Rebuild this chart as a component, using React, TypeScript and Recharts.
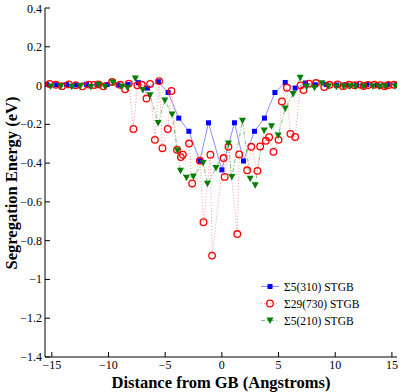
import { LineChart, Line, XAxis, YAxis } from 'recharts';

// Σ5(310) STGB
const s310X = [-15.44, -14.57, -13.69, -12.82, -11.95, -11.0, -10.12, -9.15, -8.27, -7.36, -6.57, -5.6, -4.74, -3.8, -2.91, -1.94, -1.18, 0, 1.11, 1.91, 2.88, 3.76, 4.68, 5.59, 6.47, 7.38, 8.25, 9.2, 10.1, 10.95, 11.9, 12.8, 13.7, 14.6, 15.4];
const s310Y = [0.006, 0.004, 0.005, 0.003, 0.006, 0.004, 0.005, 0.003, 0.006, 0.015, -0.013, 0.02, -0.036, -0.168, -0.236, -0.389, -0.192, -0.435, -0.192, -0.389, -0.236, -0.168, -0.036, 0.016, -0.013, 0.013, 0.004, 0.006, 0.003, 0.005, 0.004, 0.006, 0.003, 0.005, 0.004];

// Σ29(730) STGB
const s730X = [-15.2, -14.65, -14.1, -13.5, -12.9, -12.3, -11.75, -11.27, -10.89, -10.45, -9.68, -8.98, -8.53, -8.21, -7.8, -7.45, -7.06, -6.65, -6.33, -5.91, -5.53, -5.24, -4.77, -4.45, -3.95, -3.62, -3.44, -2.89, -2.62, -1.94, -1.62, -1.01, -0.86, 0.15, 0.25, 0.58, 1.36, 1.53, 2.23, 2.59, 3.14, 3.38, 3.88, 4.17, 4.55, 5.0, 5.3, 5.74, 6.05, 6.47, 6.94, 7.2, 7.68, 8.3, 9.03, 9.5, 10.2, 10.7, 11.22, 11.7, 12.14, 12.5, 12.91, 13.45, 13.97, 14.35, 14.7, 15.2];
const s730Y = [0.008, 0.004, -0.003, 0.006, 0.002, -0.004, 0.005, 0.003, 0.006, -0.004, 0.018, 0.004, -0.019, 0.01, -0.224, 0.001, 0.004, -0.067, 0.008, -0.28, 0.023, -0.323, -0.224, -0.028, -0.331, -0.369, -0.357, -0.299, -0.505, -0.388, -0.705, -0.357, -0.877, -0.374, -0.471, -0.316, -0.766, -0.355, -0.437, -0.316, -0.44, -0.314, -0.285, -0.266, -0.342, -0.28, -0.082, -0.011, -0.249, -0.265, 0.001, -0.023, 0.01, 0.013, -0.008, 0.004, 0.006, -0.003, 0.004, 0.002, 0.005, -0.002, 0.003, 0.004, 0.002, -0.003, 0.003, 0.004];

// Σ5(210) STGB
const s210X = [-15.1, -14.21, -13.24, -12.5, -11.56, -10.9, -10.3, -9.62, -8.86, -8.33, -7.63, -6.97, -6.33, -5.62, -5.03, -4.39, -3.92, -3.65, -3.12, -2.51, -1.65, -1.27, -0.52, 0.58, 0.88, 1.82, 2.5, 2.94, 3.73, 4.38, 4.97, 5.59, 6.29, 6.91, 7.47, 8.17, 8.83, 9.41, 10.1, 10.73, 11.3, 11.77, 12.5, 13.32, 13.9, 14.41, 15.3];
const s210Y = [-0.005, -0.004, -0.006, -0.003, -0.007, 0.004, -0.006, 0.016, -0.006, -0.011, 0.037, -0.023, -0.05, -0.193, -0.077, -0.149, -0.335, -0.439, -0.476, -0.469, -0.399, -0.507, -0.425, -0.299, -0.471, -0.181, -0.481, -0.514, -0.232, -0.21, -0.258, -0.118, -0.043, 0.04, -0.006, -0.011, 0.012, -0.004, -0.006, -0.005, -0.004, -0.006, -0.005, -0.004, -0.006, -0.005, -0.004];

const xTicks = [-15, -10, -5, 0, 5, 10, 15];
const yTicks = [-1.4, -1.2, -1, -0.8, -0.6, -0.4, -0.2, 0, 0.2, 0.4];
const legendNames = ['Σ5(310) STGB', 'Σ29(730) STGB', 'Σ5(210) STGB'];

const toRows = (xs: number[], ys: number[]) => xs.map((x, i) => ({ x, y: ys[i] }));
const fmt = (v: number) => `${v < 0 ? '\u2212' : ''}${Number(Math.abs(v).toFixed(1))}`;
const serif = '"Liberation Serif", "Times New Roman", serif';

const Square = (p: any) => p.cx == null ? <g key={p.key} /> : <rect key={p.key} x={p.cx - 2.5} y={p.cy - 2.5} width={5} height={5} fill="#0000ff" />;
const Ring = (p: any) => p.cx == null ? <g key={p.key} /> : <circle key={p.key} cx={p.cx} cy={p.cy} r={3.3} fill="none" stroke="#ff0000" strokeWidth={1.3} />;
const Tri = (p: any) => p.cx == null ? <g key={p.key} /> : <path key={p.key} d={`M${p.cx - 3.5},${p.cy - 3} L${p.cx + 3.5},${p.cy - 3} L${p.cx},${p.cy + 3.5} Z`} fill="#007f00" />;

const XTick = (p: any) => (
  <text x={p.x} y={p.y + 7} textAnchor="middle" fontFamily={serif} fontSize={12} fill="#000">{fmt(p.payload.value)}</text>
);
const YTick = (p: any) => (
  <text x={42} y={p.y + 4} textAnchor="end" fontFamily={serif} fontSize={12} fill="#000">{fmt(p.payload.value)}</text>
);

const styles = [
  { stroke: '#8c8cff', dash: undefined, marker: Square },
  { stroke: '#ff9c9c', dash: '1 2', marker: Ring },
  { stroke: '#80c080', dash: '4 2 1 2', marker: Tri },
];

function LegendBox() {
  return (
    <div style={{ position: 'absolute', left: 258, top: 278, fontFamily: serif, fontSize: 11.5, color: '#000' }}>
      {legendNames.map((name, i) => {
        const M = styles[i].marker;
        return (
          <div key={name} style={{ display: 'flex', alignItems: 'center', height: 17 }}>
            <svg width={24} height={17}>
              <line x1={3} x2={21} y1={8.5} y2={8.5} stroke={styles[i].stroke} strokeDasharray={styles[i].dash} />
              <M cx={12} cy={8.5} />
            </svg>
            <span style={{ marginLeft: 2, whiteSpace: 'nowrap' }}>{name}</span>
          </div>
        );
      })}
    </div>
  );
}

export default function App() {
  const series = [toRows(s310X, s310Y), toRows(s730X, s730Y), toRows(s210X, s210Y)];
  return (
    <div style={{ position: 'absolute', left: 0, top: 0, width: 402, height: 392, background: '#fff' }}>
      <LineChart width={402} height={392} margin={{ top: 8, right: 5, bottom: 0, left: 0 }}>
        <XAxis dataKey="x" type="number" domain={[-15.6, 15.45]} ticks={xTicks} allowDataOverflow
          height={35} tickSize={-5} tickMargin={10} stroke="#000" tick={<XTick />}
          label={{ value: 'Distance from GB (Angstroms)', position: 'insideBottom', offset: 4, fill: '#000', fontSize: 16.5, fontWeight: 'bold', fontFamily: serif }} />
        <XAxis xAxisId="top" orientation="top" dataKey="x" type="number" domain={[-15.6, 15.45]} ticks={xTicks} allowDataOverflow
          height={0} tickSize={-5} tick={false} stroke="#000" />
        <YAxis type="number" domain={[-1.4, 0.4]} ticks={yTicks} allowDataOverflow width={45}
          tickSize={-5} tickMargin={9} stroke="#000" tick={<YTick />}
          label={() => (
            <text x={11} y={183} transform="rotate(-90 11 183)" textAnchor="middle" dominantBaseline="central"
              fontFamily={serif} fontSize={16.5} fontWeight="bold" fill="#000">Segregation Energy (eV)</text>
          )} />
        <YAxis yAxisId="right" orientation="right" type="number" domain={[-1.4, 0.4]} ticks={yTicks} allowDataOverflow
          width={0} tickSize={-5} tick={false} stroke="#000" />
        {series.map((rows, i) => (
          <Line key={legendNames[i]} data={rows} dataKey="y" name={legendNames[i]} type="linear"
            stroke={styles[i].stroke} strokeWidth={1} strokeDasharray={styles[i].dash}
            dot={styles[i].marker} activeDot={false} isAnimationActive={false} />
        ))}
      </LineChart>
      <LegendBox />
    </div>
  );
}
